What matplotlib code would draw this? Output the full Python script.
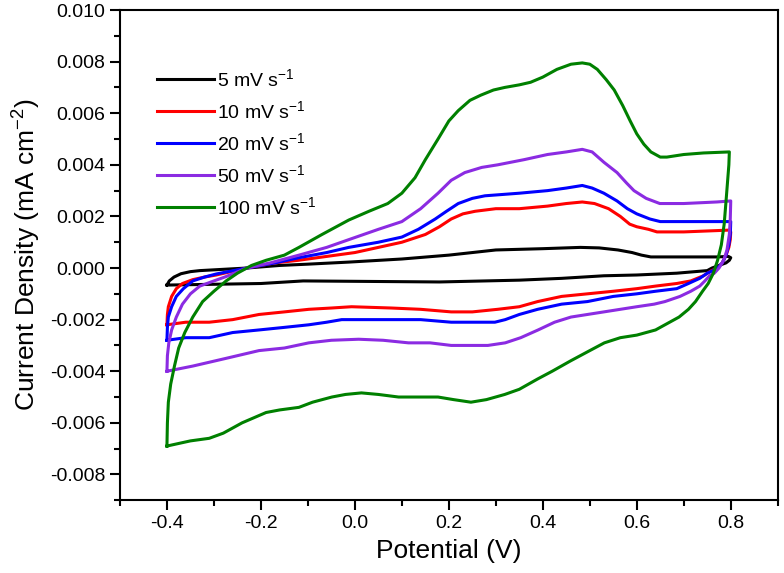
import numpy as np
import matplotlib
matplotlib.use('Agg')
import matplotlib.pyplot as plt
from matplotlib.ticker import MultipleLocator, FormatStrFormatter

plt.rcParams['font.family'] = ['Liberation Sans', 'DejaVu Sans']
plt.rcParams['mathtext.default'] = 'regular'
plt.rcParams['axes.unicode_minus'] = False

labels = ['5 mV s$^{-1}$', '10 mV s$^{-1}$', '20 mV s$^{-1}$', '50 mV s$^{-1}$', '100 mV s$^{-1}$']
colors = ['#000000', '#ff0000', '#0000ff', '#8b2be2', '#008000']

# 5 mV/s  (anodic sweep then cathodic sweep)
x5 = [-0.40, -0.395, -0.385, -0.37, -0.35, -0.33, -0.28, -0.23, -0.16, -0.10, -0.013, 0.1, 0.2, 0.25, 0.3,
      0.4, 0.48, 0.52, 0.56, 0.59, 0.61, 0.63, 0.70, 0.77, 0.795, 0.80,
      0.797, 0.79, 0.775, 0.76, 0.75, 0.685, 0.60, 0.53, 0.44, 0.35, 0.18, -0.11, -0.20, -0.40]
y5 = [-0.00066, -0.0005, -0.00035, -0.00022, -0.00014, -0.0001, -0.00005, 0.0, 0.0001, 0.00015, 0.00023,
      0.00035, 0.0005, 0.0006, 0.0007, 0.00075, 0.0008, 0.00078, 0.0007, 0.0006, 0.0005, 0.00043, 0.00043,
      0.00043, 0.00045, 0.0004,
      0.0003, 0.0002, 0.0001, 0.0, -0.0001, -0.0002, -0.00027, -0.0003, -0.0004, -0.00047, -0.00054,
      -0.0005, -0.0006, -0.00066]

# 10 mV/s
x10 = [-0.40, -0.399, -0.397, -0.39, -0.38, -0.367, -0.345, -0.32, -0.295, -0.23, -0.17, -0.12, -0.06, 0.0,
       0.05, 0.1, 0.15, 0.18, 0.205, 0.23, 0.256, 0.30, 0.35, 0.41, 0.45, 0.484, 0.51, 0.54, 0.565, 0.585,
       0.60, 0.625, 0.643, 0.70, 0.797, 0.80,
       0.799, 0.796, 0.79, 0.782, 0.772, 0.759, 0.742, 0.715, 0.685, 0.64, 0.60, 0.55, 0.495, 0.44, 0.389,
       0.35, 0.304, 0.25, 0.205, 0.14, 0.078, -0.007, -0.05, -0.098, -0.15, -0.204, -0.26, -0.31, -0.36,
       -0.40]
y10 = [-0.0022, -0.0018, -0.0015, -0.0011, -0.0008, -0.0006, -0.00045, -0.00035, -0.00027, 0.0, 0.0002,
       0.0003, 0.00045, 0.0006, 0.0008, 0.0010, 0.0013, 0.0016, 0.0019, 0.0021, 0.0022, 0.0023, 0.0023,
       0.0024, 0.0025, 0.00256, 0.0025, 0.0023, 0.0020, 0.0017, 0.0016, 0.0015, 0.0014, 0.0014, 0.00147,
       0.0014,
       0.0011, 0.0008, 0.0005, 0.0002, 0.0, -0.0001, -0.0003, -0.0005, -0.0006, -0.0007, -0.0008, -0.0009,
       -0.0010, -0.0011, -0.0013, -0.0015, -0.0016, -0.0017, -0.0017, -0.0016, -0.00155, -0.0015, -0.00155,
       -0.0016, -0.0017, -0.0018, -0.0020, -0.0021, -0.0021, -0.0022]

# 20 mV/s
x20 = [-0.40, -0.399, -0.397, -0.39, -0.38, -0.365, -0.345, -0.32, -0.295, -0.23, -0.17, -0.119, -0.06,
       -0.013, 0.05, 0.1, 0.135, 0.171, 0.195, 0.22, 0.25, 0.277, 0.35, 0.41, 0.45, 0.484, 0.505, 0.53,
       0.558, 0.58, 0.60, 0.628, 0.65, 0.70, 0.797, 0.80,
       0.799, 0.796, 0.79, 0.782, 0.772, 0.762, 0.75, 0.734, 0.71, 0.685, 0.64, 0.60, 0.55, 0.495, 0.44,
       0.389, 0.35, 0.32, 0.298, 0.25, 0.205, 0.14, 0.078, -0.028, -0.06, -0.098, -0.15, -0.204, -0.26,
       -0.31, -0.36, -0.40]
y20 = [-0.0028, -0.0023, -0.0019, -0.0015, -0.0011, -0.0008, -0.0005, -0.00035, -0.00023, 0.0, 0.0002,
       0.0004, 0.0006, 0.0008, 0.0010, 0.0012, 0.0015, 0.0019, 0.0022, 0.0025, 0.0027, 0.0028, 0.0029,
       0.0030, 0.0031, 0.0032, 0.0031, 0.0029, 0.0026, 0.0023, 0.0021, 0.0019, 0.0018, 0.0018, 0.0018,
       0.0018,
       0.0013, 0.0009, 0.0005, 0.0002, 0.0, -0.0001, -0.0002, -0.0004, -0.0006, -0.0008, -0.0009, -0.0010,
       -0.0011, -0.0013, -0.0014, -0.0016, -0.0018, -0.0020, -0.0021, -0.0021, -0.0021, -0.0020, -0.0020,
       -0.0020, -0.0021, -0.0022, -0.0023, -0.0024, -0.0025, -0.0027, -0.0027, -0.0028]

# 50 mV/s
x50 = [-0.40, -0.399, -0.396, -0.39, -0.38, -0.367, -0.35, -0.33, -0.30, -0.274, -0.23, -0.18, -0.119,
       -0.06, -0.013, 0.05, 0.1, 0.14, 0.177, 0.205, 0.234, 0.27, 0.304, 0.36, 0.41, 0.45, 0.484, 0.505,
       0.53, 0.558, 0.578, 0.594, 0.62, 0.649, 0.70, 0.77, 0.80,
       0.799, 0.797, 0.792, 0.785, 0.775, 0.765, 0.755, 0.745, 0.734, 0.715, 0.692, 0.66, 0.637, 0.60,
       0.565, 0.53, 0.495, 0.46, 0.425, 0.39, 0.353, 0.32, 0.283, 0.24, 0.205, 0.16, 0.114, 0.06, 0.008,
       -0.05, -0.098, -0.15, -0.204, -0.274, -0.345, -0.40]
y50 = [-0.0040, -0.0034, -0.0029, -0.0024, -0.0019, -0.0014, -0.0010, -0.0007, -0.0005, -0.00033, 0.0,
       0.0002, 0.0005, 0.0008, 0.0011, 0.0015, 0.0018, 0.0023, 0.0029, 0.0034, 0.0037, 0.0039, 0.0040,
       0.0042, 0.0044, 0.0045, 0.0046, 0.0045, 0.0041, 0.0037, 0.0033, 0.0030, 0.0027, 0.0025, 0.0025,
       0.00256, 0.0026,
       0.0019, 0.0013, 0.0007, 0.0003, 0.0, -0.0002, -0.0003, -0.0005, -0.0007, -0.0009, -0.0011, -0.0013,
       -0.0014, -0.0015, -0.0016, -0.0017, -0.0018, -0.0019, -0.0021, -0.0024, -0.0027, -0.0029, -0.0030,
       -0.0030, -0.0030, -0.0029, -0.0029, -0.0028, -0.00276, -0.0028, -0.0029, -0.0031, -0.0032, -0.0035,
       -0.0038, -0.0040]

# 100 mV/s
x100 = [-0.40, -0.399, -0.397, -0.392, -0.384, -0.375, -0.362, -0.345, -0.324, -0.30, -0.274, -0.25, -0.22,
        -0.189, -0.15, -0.119, -0.07, -0.013, 0.03, 0.07, 0.10, 0.128, 0.15, 0.177, 0.20, 0.22, 0.245,
        0.268, 0.295, 0.319, 0.35, 0.374, 0.40, 0.43, 0.46, 0.484, 0.50, 0.516, 0.535, 0.552, 0.57, 0.586,
        0.60, 0.615, 0.63, 0.65, 0.664, 0.70, 0.742, 0.797,
        0.796, 0.793, 0.790, 0.786, 0.78, 0.772, 0.763, 0.752, 0.74, 0.725, 0.71, 0.69, 0.67, 0.64, 0.60,
        0.565, 0.531, 0.50, 0.459, 0.42, 0.389, 0.35, 0.319, 0.28, 0.247, 0.21, 0.177, 0.13, 0.093, 0.05,
        0.014, -0.02, -0.049, -0.09, -0.119, -0.16, -0.189, -0.24, -0.28, -0.31, -0.35, -0.40]
y100 = [-0.0069, -0.0060, -0.0052, -0.0045, -0.0038, -0.0031, -0.0025, -0.0019, -0.0013, -0.0009, -0.0005,
        -0.0002, 0.0001, 0.0003, 0.0005, 0.0008, 0.0013, 0.00186, 0.0022, 0.0025, 0.0029, 0.0035, 0.0042,
        0.0050, 0.0057, 0.0061, 0.0065, 0.0067, 0.0069, 0.0070, 0.0071, 0.0072, 0.0074, 0.0077, 0.0079,
        0.00795, 0.0079, 0.0077, 0.0073, 0.0069, 0.0063, 0.0057, 0.0052, 0.0048, 0.0045, 0.0043, 0.0043,
        0.0044, 0.00446, 0.0045,
        0.0040, 0.0033, 0.0026, 0.0017, 0.0009, 0.0003, -0.0002, -0.0006, -0.0009, -0.0013, -0.0016,
        -0.0019, -0.0021, -0.0024, -0.0026, -0.0027, -0.0029, -0.0032, -0.0036, -0.0040, -0.0043, -0.0047,
        -0.0049, -0.0051, -0.0052, -0.0051, -0.0050, -0.0050, -0.0050, -0.0049, -0.00484, -0.0049, -0.0050,
        -0.0052, -0.0054, -0.0055, -0.0056, -0.0060, -0.0064, -0.0066, -0.0067, -0.0069]

xs = [x5, x10, x20, x50, x100]
ys = [y5, y10, y20, y50, y100]

fig = plt.figure(figsize=(7.84, 5.73), dpi=100)
ax = fig.add_axes([0.153, 0.127, 0.839, 0.8555])

for x, y, c, lab in zip(xs, ys, colors, labels):
    ax.plot(x, y, color=c, lw=2.2, label=lab, solid_joinstyle='round')

ax.set_xlim(-0.5, 0.9)
ax.set_ylim(-0.009, 0.010)
ax.xaxis.set_major_locator(MultipleLocator(0.2))
ax.xaxis.set_minor_locator(MultipleLocator(0.1))
ax.yaxis.set_major_locator(MultipleLocator(0.002))
ax.yaxis.set_minor_locator(MultipleLocator(0.001))
ax.xaxis.set_major_formatter(FormatStrFormatter('%.1f'))
ax.yaxis.set_major_formatter(FormatStrFormatter('%.3f'))
ax.tick_params(which='both', direction='out', width=1.5, labelsize=14, top=False, right=False)
ax.tick_params(which='major', length=7)
ax.tick_params(which='minor', length=4)
for s in ax.spines.values():
    s.set_linewidth(1.5)

ax.set_xlabel('Potential (V)', fontsize=19, labelpad=5)
ax.set_ylabel('Current Density (mA cm$^{-2}$)', fontsize=19, labelpad=5)

ax.legend(loc='upper left', bbox_to_anchor=(0.03, 0.918), frameon=False, fontsize=14,
          handlelength=2.9, handletextpad=0.2, labelspacing=0.52)

fig.savefig('out.png', dpi=100)
